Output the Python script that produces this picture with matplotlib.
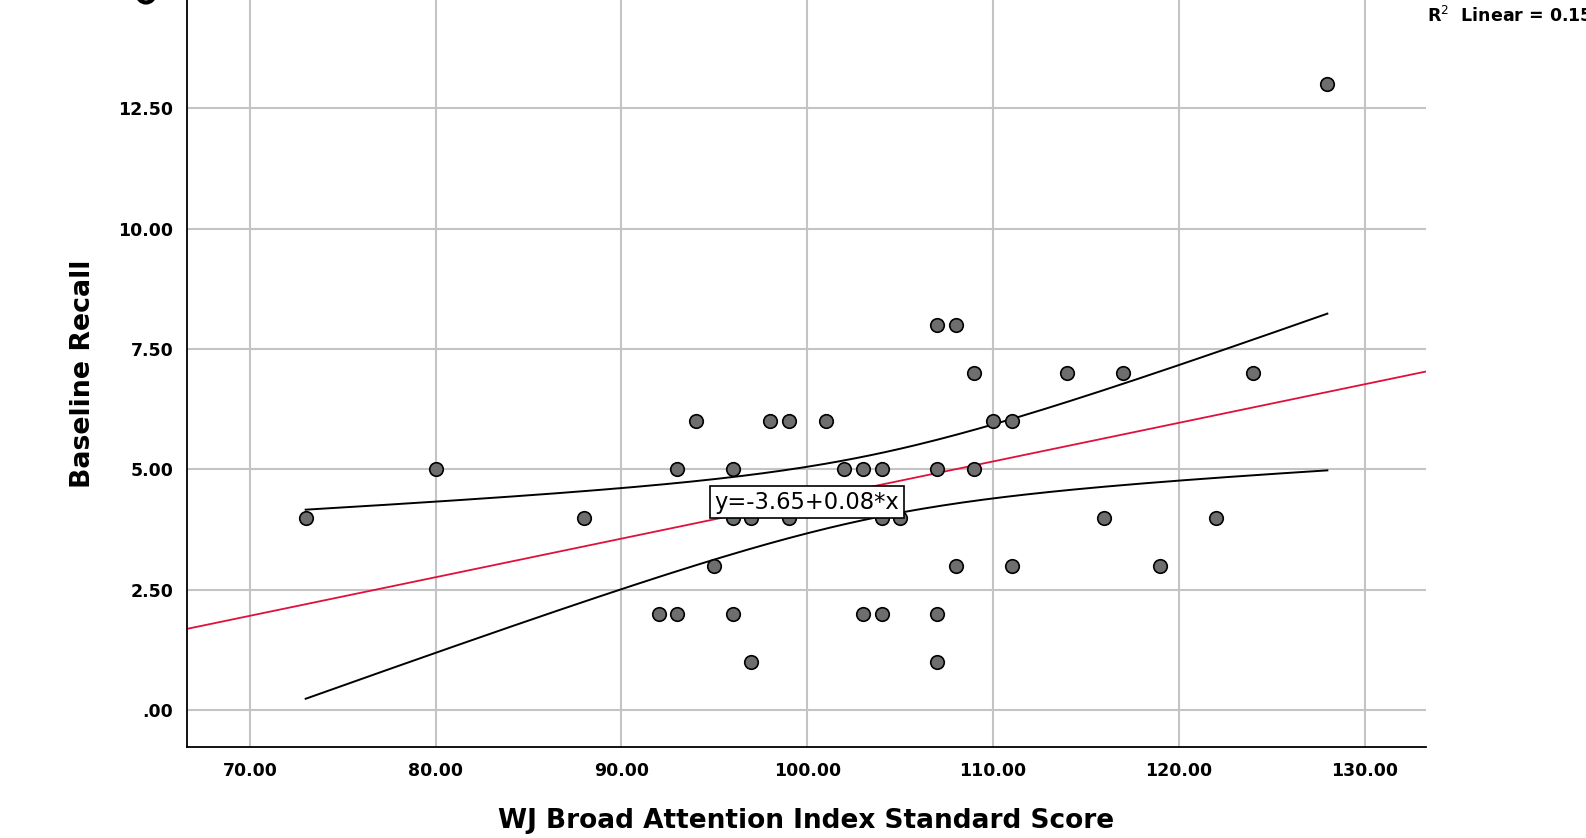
import numpy as np
import matplotlib
matplotlib.use("Agg")
import matplotlib.pyplot as plt
from matplotlib.patches import Ellipse

# WJ Broad Attention Index standard score vs baseline recall
wj_score = [73, 80, 88, 92, 93, 93, 94, 95, 96, 96, 96, 97, 97, 98, 99, 99,
            101, 102, 103, 103, 104, 104, 104, 105, 107, 108, 107, 107, 107,
            108, 109, 109, 110, 111, 111, 114, 116, 117, 119, 122, 124, 128]
recall = [4, 5, 4, 2, 2, 5, 6, 3, 5, 4, 2, 4, 1, 6, 6, 4,
          6, 5, 5, 2, 5, 4, 2, 4, 8, 8, 5, 2, 1,
          3, 7, 5, 6, 6, 3, 7, 4, 7, 3, 4, 7, 13]
x_ticks = [70, 80, 90, 100, 110, 120, 130]
y_ticks = [0, 2.5, 5, 7.5, 10, 12.5]
eq_text = "y=-3.65+0.08*x"
r2_text = "R$^{2}$  Linear = 0.15"

plt.rcParams['font.family'] = ['DejaVu Sans']
plt.rcParams['mathtext.fontset'] = 'dejavusans'

x = np.array(wj_score, dtype=float)
y = np.array(recall, dtype=float)
n = len(x)
slope, intercept = np.polyfit(x, y, 1)
resid = y - (intercept + slope * x)
s = np.sqrt(np.sum(resid ** 2) / (n - 2))
sxx = np.sum((x - x.mean()) ** 2)
t_crit = 2.021  # t(0.975, 40)

fig = plt.figure(figsize=(15.86, 8.38), dpi=100)
ax = fig.add_axes([0.118, 0.109, 0.781, 0.891])
ax.set_xlim(66.62, 133.3)
ax.set_ylim(-0.758, 14.75)

for v in x_ticks:
    ax.axvline(v, color='#c4c4c4', lw=1.5, zorder=0)
for v in y_ticks:
    ax.axhline(v, color='#c4c4c4', lw=1.5, zorder=0)

# fit line over full axis, CI band over data range
xl = np.linspace(66.62, 133.3, 50)
ax.plot(xl, intercept + slope * xl, color='#e0103c', lw=1.3, zorder=2)
xc = np.linspace(x.min(), x.max(), 200)
yc = intercept + slope * xc
hw = t_crit * s * np.sqrt(1 / n + (xc - x.mean()) ** 2 / sxx)
ax.plot(xc, yc + hw, color='black', lw=1.4, zorder=2)
ax.plot(xc, yc - hw, color='black', lw=1.4, zorder=2)

ax.scatter(x, y, s=95, facecolor='#6e6e6e', edgecolor='black', lw=1.2, zorder=3)

ax.text(100, 4.32, eq_text, fontsize=16.3, ha='center', va='center', zorder=4,
        bbox=dict(boxstyle='square,pad=0.2', fc='white', ec='black', lw=1.2))

ax.set_xticks(x_ticks)
ax.set_xticklabels([f"{v:.2f}" for v in x_ticks])
ax.set_yticks(y_ticks)
ax.set_yticklabels([f"{v:.2f}".lstrip('0') if v == 0 else f"{v:.2f}" for v in y_ticks])
ax.tick_params(length=0, labelsize=12.5, pad=11)
ax.tick_params(axis='y', pad=10)
for lab in ax.get_xticklabels() + ax.get_yticklabels():
    lab.set_fontweight('bold')

for side in ['top', 'right']:
    ax.spines[side].set_visible(False)
for side in ['left', 'bottom']:
    ax.spines[side].set_linewidth(1.3)

ax.set_xlabel("WJ Broad Attention Index Standard Score", fontsize=19,
              fontweight='bold', labelpad=20)
ax.set_ylabel("Baseline Recall", fontsize=19.3, fontweight='bold', labelpad=16)

fig.text(1427 / 1586, 1 - 16 / 838, r2_text, fontsize=12.5, fontweight='bold',
         ha='left', va='center')
# partly visible mark at top-left edge
fig.add_artist(Ellipse((146 / 1586, 1 + 6 / 838), 17 / 1586, 17 / 838,
                       transform=fig.transFigure, fill=False, ec='black', lw=3))

fig.savefig("out.png", dpi=100)
